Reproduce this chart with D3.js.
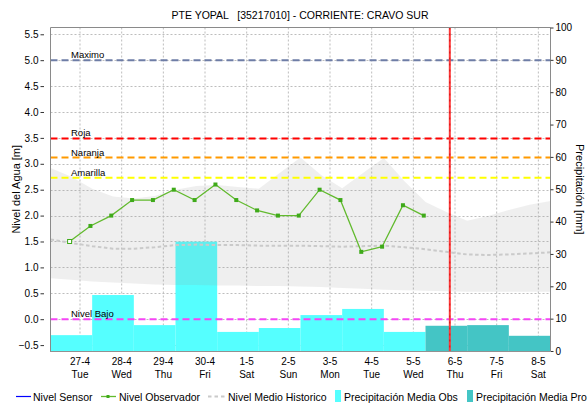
<!DOCTYPE html>
<html>
<head>
<meta charset="utf-8">
<script src="https://cdn.jsdelivr.net/npm/d3@7"></script>
<style>
  body { margin: 0; background: #fff; }
  svg { display: block; font-family: "Liberation Sans", Arial, sans-serif; }
</style>
</head>
<body>
<svg id="chart" width="588" height="403"></svg>
<script>
// ---- data -------------------------------------------------------------
const titleText = "PTE YOPAL   [35217010] - CORRIENTE: CRAVO SUR";

// day ticks (gridline at 00:00 of each day)
const tickDates = ["2021-04-27","2021-04-28","2021-04-29","2021-04-30","2021-05-01","2021-05-02",
                   "2021-05-03","2021-05-04","2021-05-05","2021-05-06","2021-05-07","2021-05-08"];
const tickDayLabels = ["27-4","28-4","29-4","30-4","1-5","2-5","3-5","4-5","5-5","6-5","7-5","8-5"];
const tickWeekdays = ["Tue","Wed","Thu","Fri","Sat","Sun","Mon","Tue","Wed","Thu","Fri","Sat"];

// daily precipitation [mm], each day closing at 07:00
const precipObsDays = ["2021-04-27","2021-04-28","2021-04-29","2021-04-30","2021-05-01",
                       "2021-05-02","2021-05-03","2021-05-04","2021-05-05"];
const precipObs = [4.9, 17.3, 8.0, 33.8, 5.9, 7.1, 11.1, 13.0, 5.9];
const precipProDays = ["2021-05-06","2021-05-07","2021-05-08"];
const precipPro = [7.8, 8.0, 4.7];

// observer readings [m]
const observerTimes = ["2021-04-26 18:00","2021-04-27 06:00","2021-04-27 18:00","2021-04-28 06:00",
                       "2021-04-28 18:00","2021-04-29 06:00","2021-04-29 18:00","2021-04-30 06:00",
                       "2021-04-30 18:00","2021-05-01 06:00","2021-05-01 18:00","2021-05-02 06:00",
                       "2021-05-02 18:00","2021-05-03 06:00","2021-05-03 18:00","2021-05-04 06:00",
                       "2021-05-04 18:00","2021-05-05 06:00"];
const observerLevels = [1.5, 1.8, 2.0, 2.3, 2.3, 2.5, 2.3, 2.6, 2.3, 2.1, 2.0, 2.0,
                        2.5, 2.3, 1.3, 1.4, 2.2, 2.0];

// historical level envelope and mean [m], every 12 h
const histTimes = ["2021-04-26 07:00","2021-04-26 19:00","2021-04-27 07:00","2021-04-27 19:00",
                   "2021-04-28 07:00","2021-04-28 19:00","2021-04-29 07:00","2021-04-29 19:00",
                   "2021-04-30 07:00","2021-04-30 19:00","2021-05-01 07:00","2021-05-01 19:00",
                   "2021-05-02 07:00","2021-05-02 19:00","2021-05-03 07:00","2021-05-03 19:00",
                   "2021-05-04 07:00","2021-05-04 19:00","2021-05-05 07:00","2021-05-05 19:00",
                   "2021-05-06 07:00","2021-05-06 19:00","2021-05-07 07:00","2021-05-07 19:00",
                   "2021-05-08 07:00"];
const histMax = [2.92, 2.75, 2.52, 2.37, 2.33, 2.38, 2.50, 2.57, 2.59, 2.55, 2.52, 2.82,
                 3.12, 2.78, 2.53, 2.82, 3.11, 2.66, 2.26, 2.07, 1.90, 1.99, 2.11, 2.21, 2.28];
const histMin = [0.79, 0.76, 0.73, 0.71, 0.69, 0.67, 0.66, 0.66, 0.65, 0.65, 0.64, 0.64,
                 0.63, 0.62, 0.60, 0.59, 0.57, 0.56, 0.55, 0.54, 0.53, 0.53, 0.53, 0.53, 0.53];
const histMean = [1.54, 1.47, 1.41, 1.36, 1.36, 1.39, 1.43, 1.44, 1.43, 1.43, 1.42, 1.42,
                  1.42, 1.41, 1.40, 1.41, 1.42, 1.39, 1.35, 1.30, 1.25, 1.24, 1.25, 1.27, 1.29];

// alert thresholds [m]
const thresholdNames = ["Maximo", "Roja", "Naranja", "Amarilla", "Nivel Bajo"];
const thresholdLevels = [5.0, 3.49, 3.12, 2.73, 0.0];

const nowTime = "2021-05-05 21:00";

const levelTicks = [-0.5, 0, 0.5, 1, 1.5, 2, 2.5, 3, 3.5, 4, 4.5, 5, 5.5];
const precipTicks = [0, 10, 20, 30, 40, 50, 60, 70, 80, 90, 100];

const legendLabels = ["Nivel Sensor", "Nivel Observador", "Nivel Medio Historico",
                      "Precipitación Media Obs", "Precipitación Media Pro"];

// ---- drawing ----------------------------------------------------------
(function () {
const parseT = d3.timeParse("%Y-%m-%d %H:%M");
const parseD = d3.timeParse("%Y-%m-%d");

const pLeft = 50.5, pRight = 550.5, pTop = 27.5, pBottom = 351;

const x = d3.scaleTime()
  .domain([parseT("2021-04-26 07:00"), parseT("2021-05-08 07:00")])
  .range([pLeft, pRight]);
const yL = d3.scaleLinear().domain([-0.614, 5.631]).range([pBottom, pTop]);
const yR = d3.scaleLinear().domain([0, 100]).range([pBottom, pTop]);

const thresholdColors = ["#6E7DA6", "#FF0000", "#FF9A00", "#FFFF00", "#F545F5"];
const obsColor = "#55FFFF", proColor = "#44C5C5";
const greenLine = "#62BA2E", greenMark = "#3FAA1A";

const svg = d3.select("#chart");

svg.append("defs").append("clipPath").attr("id", "plotClip")
  .append("rect").attr("x", pLeft).attr("y", pTop)
  .attr("width", pRight - pLeft).attr("height", pBottom - pTop);

// title
svg.append("text")
  .attr("x", 300).attr("y", 19)
  .attr("text-anchor", "middle")
  .style("white-space", "pre")
  .attr("font-size", 10.5)
  .text(titleText);

const plot = svg.append("g").attr("clip-path", "url(#plotClip)");

// gridlines
plot.append("g").selectAll("line").data(tickDates).join("line")
  .attr("x1", d => x(parseD(d))).attr("x2", d => x(parseD(d)))
  .attr("y1", pTop).attr("y2", pBottom)
  .attr("stroke", "#BDBDBD").attr("stroke-width", 1).attr("stroke-dasharray", "2,2");
plot.append("g").selectAll("line").data(levelTicks).join("line")
  .attr("x1", pLeft).attr("x2", pRight)
  .attr("y1", d => Math.round(yL(d)) + 0.5).attr("y2", d => Math.round(yL(d)) + 0.5)
  .attr("stroke", "#BDBDBD").attr("stroke-width", 1).attr("stroke-dasharray", "2,2");

// precipitation bars: each bar spans the 24 h ending at 07:00 of its day
function barSpan(day) {
  const end = d3.timeHour.offset(parseD(day), 7);
  const start = d3.timeHour.offset(end, -24);
  return [x(start), x(end)];
}
plot.append("g").selectAll("rect").data(precipObs).join("rect")
  .attr("x", (d, i) => barSpan(precipObsDays[i])[0])
  .attr("width", (d, i) => barSpan(precipObsDays[i])[1] - barSpan(precipObsDays[i])[0])
  .attr("y", d => yR(d)).attr("height", d => yR(0) - yR(d))
  .attr("fill", obsColor);
plot.append("g").selectAll("rect").data(precipPro).join("rect")
  .attr("x", (d, i) => barSpan(precipProDays[i])[0])
  .attr("width", (d, i) => barSpan(precipProDays[i])[1] - barSpan(precipProDays[i])[0])
  .attr("y", d => yR(d)).attr("height", d => yR(0) - yR(d))
  .attr("fill", proColor);

// historical envelope
const hist = histTimes.map((t, i) => ({ t: parseT(t), max: histMax[i], min: histMin[i], mean: histMean[i] }));
plot.append("path").datum(hist)
  .attr("d", d3.area().x(d => x(d.t)).y0(d => yL(d.min)).y1(d => yL(d.max)))
  .attr("fill", "rgba(150,150,150,0.155)");
plot.append("path").datum(hist)
  .attr("d", d3.line().x(d => x(d.t)).y(d => yL(d.mean)))
  .attr("fill", "none").attr("stroke", "#CACACA").attr("stroke-width", 2)
  .attr("stroke-dasharray", "3.5,2.5");

// thresholds
thresholdLevels.forEach((v, i) => {
  const yy = yL(v);
  plot.append("line")
    .attr("x1", pLeft).attr("x2", pRight).attr("y1", yy).attr("y2", yy)
    .attr("stroke", thresholdColors[i]).attr("stroke-width", 2)
    .attr("stroke-dasharray", "7,4");
  plot.append("text")
    .attr("x", 71).attr("y", yy - 2)
    .attr("font-size", 9.5).attr("fill", "#000")
    .text(thresholdNames[i]);
});

// current time marker
const xNow = x(parseT(nowTime));
plot.append("line")
  .attr("x1", xNow).attr("x2", xNow).attr("y1", pTop).attr("y2", pBottom)
  .attr("stroke", "#FF3838").attr("stroke-width", 2);
plot.append("line")
  .attr("x1", xNow).attr("x2", xNow).attr("y1", pTop).attr("y2", pBottom)
  .attr("stroke", "#C81818").attr("stroke-width", 1).attr("stroke-dasharray", "2,4");

// observer readings
const obs = observerTimes.map((t, i) => ({ t: parseT(t), v: observerLevels[i] }));
plot.append("path").datum(obs)
  .attr("d", d3.line().x(d => x(d.t)).y(d => yL(d.v)))
  .attr("fill", "none").attr("stroke", greenLine).attr("stroke-width", 1.3);
plot.append("g").selectAll("rect").data(obs).join("rect")
  .attr("x", d => x(d.t) - 2).attr("y", d => yL(d.v) - 2)
  .attr("width", 4).attr("height", 4)
  .attr("fill", (d, i) => i === 0 ? "#fff" : greenMark)
  .attr("stroke", (d, i) => i === 0 ? greenMark : "none")
  .attr("stroke-width", 1);

// frame
svg.append("line").attr("x1", pLeft).attr("x2", pRight).attr("y1", pTop).attr("y2", pTop)
  .attr("stroke", "#8A8A8A");
svg.append("line").attr("x1", pLeft).attr("x2", pLeft).attr("y1", pTop).attr("y2", pBottom)
  .attr("stroke", "#8A8A8A");
svg.append("line").attr("x1", pRight).attr("x2", pRight).attr("y1", pTop).attr("y2", pBottom)
  .attr("stroke", "#8A8A8A");
svg.append("line").attr("x1", pLeft).attr("x2", pRight).attr("y1", pBottom + 0.5).attr("y2", pBottom + 0.5)
  .attr("stroke", "#222").attr("stroke-dasharray", "1,1");

// left axis
const axL = svg.append("g").attr("transform", "translate(44,0)")
  .call(d3.axisLeft(yL).tickValues(levelTicks).tickFormat(d3.format(".1f")).tickSize(3.5).tickPadding(2));
axL.select(".domain").remove();
axL.selectAll("text").attr("font-size", 10).attr("font-family", null).attr("fill", "#000");
axL.selectAll("line").attr("stroke", "#333");

// right axis
const axR = svg.append("g").attr("transform", `translate(${pRight},0)`)
  .call(d3.axisRight(yR).tickValues(precipTicks).tickFormat(d3.format("d")).tickSize(3).tickPadding(2));
axR.select(".domain").remove();
axR.selectAll("text").attr("font-size", 10).attr("font-family", null).attr("fill", "#000");
axR.selectAll("line").attr("stroke", "#333");

// x labels (date + weekday)
const xl = svg.append("g").selectAll("g").data(tickDates).join("g")
  .attr("transform", d => `translate(${x(parseD(d))},0)`);
xl.append("text").attr("y", 365).attr("text-anchor", "middle").attr("font-size", 10)
  .text((d, i) => tickDayLabels[i]);
xl.append("text").attr("y", 378).attr("text-anchor", "middle").attr("font-size", 10)
  .text((d, i) => tickWeekdays[i]);

// axis titles
svg.append("text").attr("transform", `translate(20,${(pTop + pBottom) / 2}) rotate(-90)`)
  .attr("text-anchor", "middle").attr("font-size", 11).text("Nivel del Agua [m]");
svg.append("text").attr("transform", `translate(576,${(pTop + pBottom) / 2}) rotate(90)`)
  .attr("text-anchor", "middle").attr("font-size", 11).text("Precipitación [mm]");

// legend
const lg = svg.append("g").attr("font-size", 10.5);
const ly = 396.5, lty = 400.5;
lg.append("line").attr("x1", 16).attr("x2", 31).attr("y1", ly).attr("y2", ly)
  .attr("stroke", "#0000FF").attr("stroke-width", 1.2);
lg.append("text").attr("x", 33).attr("y", lty).text(legendLabels[0]);
lg.append("line").attr("x1", 101).attr("x2", 116).attr("y1", ly).attr("y2", ly)
  .attr("stroke", greenLine).attr("stroke-width", 1.3);
lg.append("rect").attr("x", 106.5).attr("y", ly - 1.5).attr("width", 3).attr("height", 3).attr("fill", greenMark);
lg.append("text").attr("x", 119).attr("y", lty).text(legendLabels[1]);
lg.append("line").attr("x1", 208).attr("x2", 225).attr("y1", ly).attr("y2", ly)
  .attr("stroke", "#CACACA").attr("stroke-width", 2).attr("stroke-dasharray", "3.5,3");
lg.append("text").attr("x", 228).attr("y", lty).text(legendLabels[2]);
lg.append("rect").attr("x", 335).attr("y", 390).attr("width", 6).attr("height", 12).attr("fill", obsColor);
lg.append("text").attr("x", 344).attr("y", lty).text(legendLabels[3]);
lg.append("rect").attr("x", 467).attr("y", 390).attr("width", 6).attr("height", 12).attr("fill", proColor);
lg.append("text").attr("x", 476).attr("y", lty).text(legendLabels[4]);
})();
</script>
</body>
</html>
